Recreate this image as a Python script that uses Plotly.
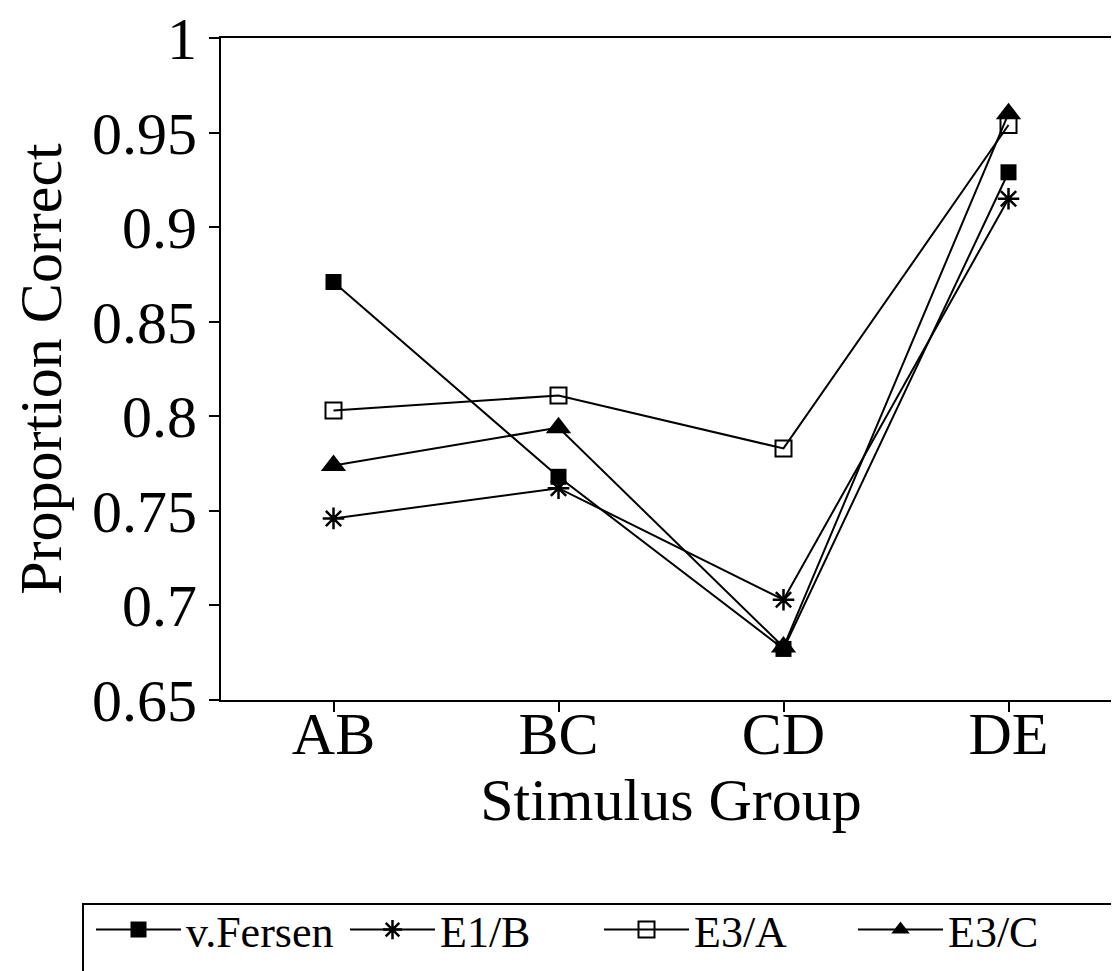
import plotly.graph_objects as go

categories = ["AB", "BC", "CD", "DE"]
v_fersen = [0.871, 0.768, 0.677, 0.929]
e1_b = [0.746, 0.762, 0.703, 0.915]
e3_a = [0.803, 0.811, 0.783, 0.954]
e3_c = [0.774, 0.794, 0.678, 0.960]
y_ticks = [0.65, 0.7, 0.75, 0.8, 0.85, 0.9, 0.95, 1.0]
y_ticklabels = ["0.65", "0.7", "0.75", "0.8", "0.85", "0.9", "0.95", "1"]

FONT = "Liberation Serif, Times New Roman, serif"
W, H = 1119, 971
L, R, T, B = 213, 6, 30, 279

series = [
    ("v.Fersen", v_fersen, dict(symbol="square", size=16, color="black")),
    ("E1/B", e1_b, dict(symbol="asterisk-open", size=18, color="black", line=dict(width=2.5, color="black"))),
    ("E3/A", e3_a, dict(symbol="square-open", size=16, color="black", line=dict(width=2, color="black"))),
    ("E3/C", e3_c, dict(symbol="triangle-up", size=22, color="black")),
]

fig = go.Figure()
for name, vals, mk in series:
    fig.add_trace(go.Scatter(
        x=categories, y=vals, name=name, mode="lines+markers",
        line=dict(color="black", width=2), marker=mk,
    ))

pw = W - L - R
ph = H - T - B
def px_x(x):
    return (x - L) / pw
def px_y(y):
    return (H - B - y) / ph

fig.update_layout(
    width=W, height=H,
    margin=dict(l=L, r=R, t=T, b=B, pad=0, autoexpand=False),
    paper_bgcolor="white", plot_bgcolor="white",
    font=dict(family=FONT, color="black", size=58),
    showlegend=True,
    legend=dict(
        orientation="h",
        x=px_x(83), xanchor="left", y=px_y(922), yanchor="middle",
        font=dict(family=FONT, size=44, color="black"),
        bgcolor="rgba(0,0,0,0)", borderwidth=0,
        itemwidth=85, entrywidth=154, entrywidthmode="pixels",
        traceorder="normal",
    ),
    xaxis=dict(
        type="category", range=[-0.5, 3.5], automargin=False,
        showline=True, linecolor="black", linewidth=2, mirror=True,
        ticks="outside", ticklen=10, tickwidth=2, tickcolor="black",
        showgrid=False, zeroline=False, ticklabelstandoff=-30,
        tickfont=dict(family=FONT, size=60),
        title=dict(text="Stimulus Group", font=dict(family=FONT, size=60), standoff=0),
    ),
    yaxis=dict(
        range=[0.65, 1.0], tickvals=y_ticks, ticktext=y_ticklabels, automargin=True,
        showline=True, linecolor="black", linewidth=2, mirror=False,
        ticks="outside", ticklen=10, tickwidth=2, tickcolor="black",
        showgrid=False, zeroline=False, ticklabeloverflow="allow",
        tickfont=dict(family=FONT, size=60),
        title=dict(text="Proportion Correct", font=dict(family=FONT, size=60), standoff=32),
    ),
    shapes=[dict(
        type="rect", xref="paper", yref="paper",
        x0=px_x(75), x1=px_x(1130), y0=px_y(896), y1=px_y(985),
        line=dict(color="black", width=2), fillcolor="rgba(0,0,0,0)", layer="below",
    )],
)

fig.write_html("out.html")
